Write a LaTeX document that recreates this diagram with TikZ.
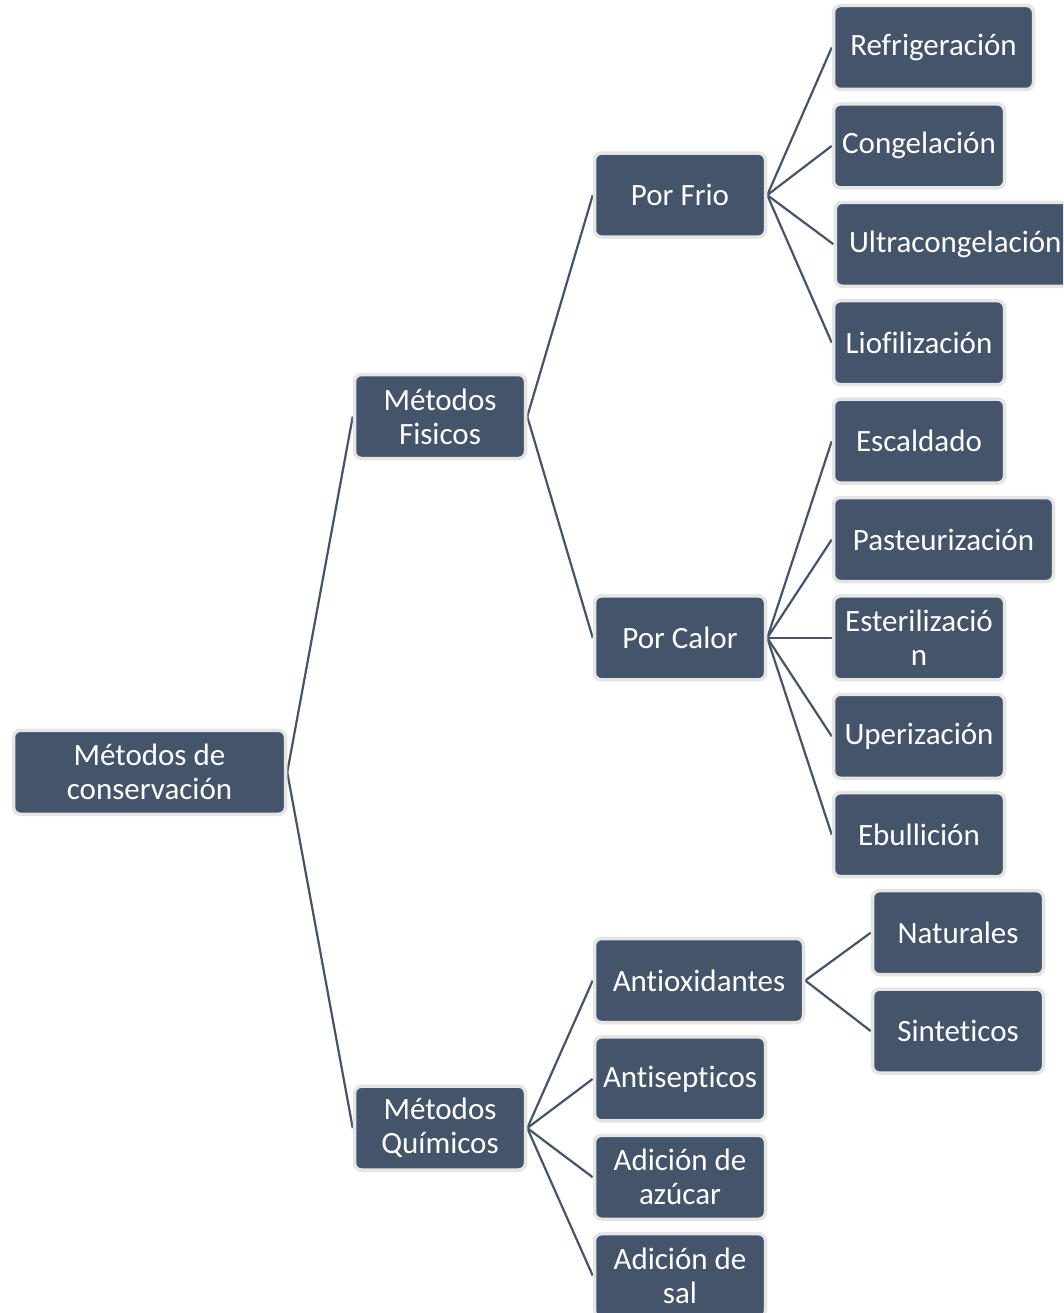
\documentclass[tikz,border=0pt]{standalone}
\usepackage{fontspec}
\setmainfont{Carlito}[RawFeature={-liga}]
\usetikzlibrary{backgrounds}
\definecolor{boxfill}{HTML}{44546A}
\definecolor{boxedge}{HTML}{E5E5E5}
\begin{document}
\begin{tikzpicture}[x=1pt,y=-1pt,
  box/.style={fill=boxfill, draw=boxedge, line width=3.5pt, rounded corners=7pt,
    text=white, align=center, inner sep=0pt, minimum height=84pt, minimum width=171pt,
    font=\fontsize{31}{34}\selectfont},
  link/.style={draw=boxfill, line width=2.2pt}]
\useasboundingbox (0,0) rectangle (1063,1313);
\clip (0,0) rectangle (1063,1313);
% root and level 1
\node[box, minimum width=272pt] (root) at (149.5,772.3) {Métodos de\\conservación};
\node[box] (fis) at (440,416.5) {Métodos\\Fisicos};
\node[box] (qui) at (440,1128.1) {Métodos\\Químicos};
% level 2
\node[box] (frio) at (680,195.1) {Por Frio};
\node[box] (calor) at (680,637.9) {Por Calor};
\node[box, minimum width=209pt] (antiox) at (699,980.5) {Antioxidantes};
\node[box] (antisep) at (680,1078.9) {Antisepticos};
\node[box] (azucar) at (680,1177.3) {Adición de\\azúcar};
\node[box] (sal) at (680,1275.7) {Adición de\\sal};
% level 3
\node[box, minimum width=200pt] (refr) at (933.5,47.5) {Refrigeración};
\node[box] (cong) at (919,145.9) {Congelación};
\node[box, minimum width=240pt, anchor=west] (ultra) at (833.5,244.3) {Ultracongelación};
\node[box] (liof) at (919,342.7) {Liofilización};
\node[box] (esca) at (919,441.1) {Escaldado};
\node[box, minimum width=220pt] (past) at (943.5,539.5) {Pasteurización};
\node[box] (este) at (919,637.9) {Esterilizació\\n};
\node[box] (uper) at (919,736.3) {Uperización};
\node[box] (ebul) at (919,834.7) {Ebullición};
% level 4
\node[box] (nat) at (958,932.7) {Naturales};
\node[box] (sint) at (958,1031.1) {Sinteticos};
% connectors
\begin{scope}[on background layer]
\draw[link] (root.east) -- (fis.west);
\draw[link] (root.east) -- (qui.west);
\draw[link] (fis.east) -- (frio.west);
\draw[link] (fis.east) -- (calor.west);
\foreach \c in {refr,cong,ultra,liof} \draw[link] (frio.east) -- (\c.west);
\foreach \c in {esca,past,este,uper,ebul} \draw[link] (calor.east) -- (\c.west);
\foreach \c in {antiox,antisep,azucar,sal} \draw[link] (qui.east) -- (\c.west);
\draw[link] (antiox.east) -- (nat.west);
\draw[link] (antiox.east) -- (sint.west);
\end{scope}
\end{tikzpicture}
\end{document}
